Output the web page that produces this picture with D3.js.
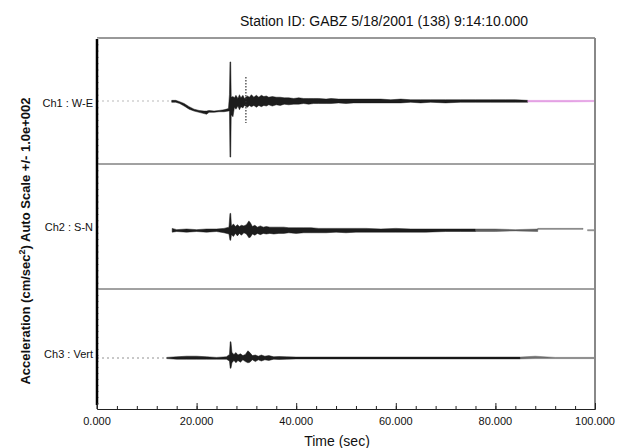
<!DOCTYPE html>
<html>
<head>
<meta charset="utf-8">
<script src="https://cdn.jsdelivr.net/npm/d3@7"></script>
<style>
  html, body { margin: 0; padding: 0; background: #fff; }
  svg text { font-family: "Liberation Sans", Arial, Helvetica, sans-serif; }
</style>
</head>
<body>
<div class="container"></div>
<script>
// ---- data ----
const channelNames = ["Ch1 : W-E", "Ch2 : S-N", "Ch3 : Vert"];
const timeTicks = [0, 20, 40, 60, 80, 100];
const timeLabels = ["0.000", "20.000", "40.000", "60.000", "80.000", "100.000"];
const titleText = "Station ID: GABZ 5/18/2001 (138) 9:14:10.000";

// envelopes per channel: [time (s), min, max] in cm/sec^2 (auto scale +/- 100)
const ch1Env = [
  [15.0, -2, 1], [15.8, -2, 1], [16.6, -4, -1], [17.5, -8, -4], [18.5, -13, -9],
  [19.5, -16, -13], [20.5, -18, -15], [21.5, -20, -16], [22.0, -21, -16], [22.5, -18, -15],
  [23.5, -18, -16], [24.5, -17, -15], [25.5, -17, -14], [26.4, -16, -12],
  [26.6, -16, 10], [26.7, -89, 62], [26.85, -89, 62], [26.95, -22, 6], [27.3, -25, 7],
  [27.6, -10, 5], [27.9, -13, 9], [28.3, -8, 4], [28.6, -14, 10], [28.9, -9, 5],
  [29.3, -11, 9], [29.6, -7, 4], [30.2, -10, 8], [30.6, -7, 6], [31.0, -9, 10],
  [31.5, -7, 6], [32.0, -10, 9], [32.5, -7, 6], [33.0, -9, 9], [33.5, -7, 7],
  [34.0, -8, 8], [34.5, -6, 6], [35.2, -8, 7], [36.0, -6, 6], [36.8, -7, 6],
  [37.6, -5, 5], [38.5, -6, 5], [39.5, -5, 4], [40.5, -5, 5], [41.5, -4, 4],
  [42.5, -5, 4], [43.5, -4, 4], [44.5, -4, 4], [46, -4, 3], [47, -4, 4], [48.5, -3, 3],
  [50, -4, 3], [51.5, -3, 3], [53, -3, 3], [55, -3, 3], [57, -3, 3], [59, -3, 2],
  [61, -3, 3], [63, -2, 2], [65, -3, 2], [67, -2, 2], [70, -3, 2], [73, -2, 2],
  [76, -2, 2], [79, -2, 2], [82, -2, 2], [84, -2, 2], [86.5, -2, 1]
];
const ch1Tail = [[86.5, -1.5, 1], [90, -1.5, 1], [95, -1.5, 1], [100, -1, 1]];
const ch1Pre = [[0, 0], [15, 0]];
const ch1Dotted = [[29.9, -35, 38]];

const ch2Env = [
  [15.1, -9, -3], [16, -8, -5], [18, -9, -4], [20, -8, -5], [22, -9, -4],
  [24, -8, -4], [25.5, -10, -3], [26.5, -12, -1], [26.7, -22, 21], [26.85, -22, 21],
  [27.0, -13, 1], [27.4, -16, 4], [27.8, -11, 0], [28.2, -15, 3], [28.6, -11, 0],
  [29.0, -14, 2], [29.5, -10, 1], [30.0, -12, 3], [30.5, -18, 9], [30.8, -17, 6],
  [31.2, -12, 0], [31.7, -14, 2], [32.2, -11, -1], [32.8, -13, 1], [33.4, -11, -1],
  [34.0, -12, 0], [34.7, -11, -1], [35.5, -12, -1], [36.5, -11, -1], [37.5, -11, -1],
  [38.5, -10, -2], [40, -11, -2], [41.5, -10, -2], [43, -10, -2], [44.5, -10, -3],
  [46, -10, -3], [48, -9, -3], [50, -10, -3], [52, -9, -3], [54, -9, -3], [57, -9, -4],
  [60, -9, -3], [63, -9, -4], [66, -9, -4], [70, -8, -4], [73, -8, -4], [76, -8, -4]
];
const ch2Tail = [[76, -8, -4], [80, -8, -4], [84, -7, -5], [88.5, -8, -4]];
const ch2End = [[88.5, -4.5, -3], [93, -4.5, -3], [97.6, -4.5, -3]];
const ch2Last = [[98.5, -7, -5], [100, -7, -5]];

const ch3Env = [
  [14, -16, -14], [16, -17, -13], [18, -17, -12], [20, -17, -12], [22, -17, -13],
  [24, -17, -14], [26, -17, -13], [26.6, -20, -9], [26.75, -32, 12], [26.9, -32, 12],
  [27.1, -23, -6], [27.5, -19, -9], [27.9, -23, -6], [28.3, -19, -10], [28.8, -22, -8],
  [29.3, -18, -11], [29.8, -21, -9], [30.3, -23, -3], [30.7, -22, -6], [31.2, -18, -11],
  [31.8, -21, -10], [32.4, -18, -12], [33.0, -20, -10], [33.7, -18, -12], [34.5, -19, -11],
  [35.5, -17, -13], [36.5, -17.5, -12.5], [38, -17, -13], [40, -16.5, -13.5],
  [50, -16.5, -13.5], [60, -16.5, -13.5], [70, -16.5, -13.5], [80, -16.5, -13.5],
  [85, -16.5, -13.5]
];
const ch3Tail = [[85, -16.5, -13.5], [88, -16, -12], [92, -16, -14], [100, -16, -14]];
const ch3Pre = [[0, -15], [14, -15]];

// ---- layout ----
const width = 618;
const height = 448;
const plotLeft = 97;
const plotRight = 595;
const panelEdges = [38, 164, 289, 409];

const svg = d3.select(".container")
  .append("svg")
  .attr("xmlns", "http://www.w3.org/2000/svg")
  .attr("width", width)
  .attr("height", height)
  .attr("viewBox", `0 0 ${width} ${height}`);

svg.append("rect")
  .attr("x", 0).attr("y", 0)
  .attr("width", width).attr("height", height)
  .attr("fill", "#ffffff");

const x = d3.scaleLinear().domain([0, 100]).range([plotLeft, plotRight]);
const yScales = [0, 1, 2].map(i =>
  d3.scaleLinear().domain([-100, 100]).range([panelEdges[i + 1], panelEdges[i]]));

// title
svg.append("text")
  .attr("x", 384)
  .attr("y", 26)
  .attr("text-anchor", "middle")
  .style("font-size", "14px")
  .attr("fill", "#111")
  .text(titleText);

// y label
const ylab = svg.append("text")
  .attr("transform", "translate(30,241) rotate(-90)")
  .attr("text-anchor", "middle")
  .style("font-size", "13px")
  .style("font-weight", "bold")
  .attr("fill", "#111");
ylab.append("tspan").text("Acceleration (cm/sec");
ylab.append("tspan").attr("dy", -5).style("font-size", "9px").text("2");
ylab.append("tspan").attr("dy", 5).text(")  Auto Scale +/- 1.0e+002");

// channel labels
channelNames.forEach((name, i) => {
  const yy = [103, 227, 354][i];
  svg.append("text")
    .attr("x", 93)
    .attr("y", yy)
    .attr("dy", "0.35em")
    .attr("text-anchor", "end")
    .style("font-size", "11px")
    .attr("fill", "#111")
    .text(name);
});

// waveforms
const drawEnv = (data, i, fill, opacity) => {
  const y = yScales[i];
  const area = d3.area()
    .x(d => x(d[0]))
    .y0(d => y(d[1]))
    .y1(d => y(d[2]));
  svg.append("path")
    .datum(data)
    .attr("d", area)
    .attr("fill", fill)
    .attr("fill-opacity", opacity)
    .attr("stroke", fill)
    .attr("stroke-opacity", opacity)
    .attr("stroke-width", 0.5)
    .attr("stroke-linejoin", "miter");
};
const drawFaint = (data, i, color) => {
  const y = yScales[i];
  svg.append("path")
    .datum(data)
    .attr("d", d3.line().x(d => x(d[0])).y(d => y(d[1])))
    .attr("fill", "none")
    .attr("stroke", color)
    .attr("stroke-width", 2)
    .attr("stroke-dasharray", "2,3");
};

drawFaint(ch1Pre, 0, "#dcdcdc");
drawFaint(ch3Pre, 2, "#c8c8c8");
drawEnv(ch1Env, 0, "#111", 0.95);
drawEnv(ch1Tail, 0, "#e090e0", 0.8);
drawEnv(ch2Env, 1, "#111", 0.95);
drawEnv(ch2Tail, 1, "#444", 0.85);
drawEnv(ch2End, 1, "#555", 0.85);
drawEnv(ch2Last, 1, "#777", 0.8);
drawEnv(ch3Env, 2, "#111", 0.95);
drawEnv(ch3Tail, 2, "#555", 0.85);

ch1Dotted.forEach(d => {
  svg.append("line")
    .attr("x1", x(d[0])).attr("x2", x(d[0]))
    .attr("y1", yScales[0](d[2])).attr("y2", yScales[0](d[1]))
    .attr("stroke", "#333")
    .attr("stroke-width", 1.2)
    .attr("stroke-dasharray", "1.5,1.5");
});

// frame: top, dividers, right
svg.append("line")
  .attr("x1", plotLeft).attr("x2", plotRight)
  .attr("y1", panelEdges[0]).attr("y2", panelEdges[0])
  .attr("stroke", "#333").attr("stroke-width", 1);
[panelEdges[1], panelEdges[2]].forEach(py => {
  svg.append("line")
    .attr("x1", plotLeft).attr("x2", plotRight + 1)
    .attr("y1", py).attr("y2", py)
    .attr("stroke", "#444").attr("stroke-width", 1);
});
svg.append("line")
  .attr("x1", plotRight).attr("x2", plotRight)
  .attr("y1", panelEdges[0]).attr("y2", panelEdges[3])
  .attr("stroke", "#888").attr("stroke-width", 2);

// left axis: thick bar with faint ticks in each panel
yScales.forEach(y => {
  svg.append("g")
    .attr("transform", `translate(${plotLeft},0)`)
    .call(d3.axisRight(y).ticks(20).tickSize(2).tickFormat(""))
    .call(g => g.select(".domain").remove())
    .call(g => g.selectAll("line").attr("stroke", "#bbb"));
});
svg.append("line")
  .attr("x1", plotLeft).attr("x2", plotLeft)
  .attr("y1", panelEdges[0] + 1).attr("y2", 405)
  .attr("stroke", "#000").attr("stroke-width", 2.5);
svg.append("line")
  .attr("x1", plotLeft).attr("x2", plotLeft)
  .attr("y1", 400).attr("y2", panelEdges[3])
  .attr("stroke", "#000").attr("stroke-width", 1);

// bottom axis
const xAxisMinor = d3.axisTop(x)
  .tickValues(d3.range(0, 101, 4))
  .tickSize(3)
  .tickFormat("");
svg.append("g")
  .attr("transform", `translate(0,${panelEdges[3]})`)
  .call(xAxisMinor)
  .call(g => g.select(".domain").attr("stroke", "#222"))
  .call(g => g.selectAll(".tick line").attr("stroke", "#222"));

const xAxisMajor = d3.axisTop(x)
  .tickValues(timeTicks)
  .tickSize(6)
  .tickFormat("");
svg.append("g")
  .attr("transform", `translate(0,${panelEdges[3]})`)
  .call(xAxisMajor)
  .call(g => g.select(".domain").remove())
  .call(g => g.selectAll(".tick line").attr("stroke", "#222"));

svg.append("g")
  .selectAll("text")
  .data(timeTicks)
  .join("text")
  .attr("x", d => x(d))
  .attr("y", 425)
  .attr("text-anchor", "middle")
  .style("font-size", "11px")
  .attr("fill", "#111")
  .text((d, i) => timeLabels[i]);

svg.append("text")
  .attr("x", 337)
  .attr("y", 446)
  .attr("text-anchor", "middle")
  .style("font-size", "14px")
  .attr("fill", "#111")
  .text("Time (sec)");
</script>
</body>
</html>
